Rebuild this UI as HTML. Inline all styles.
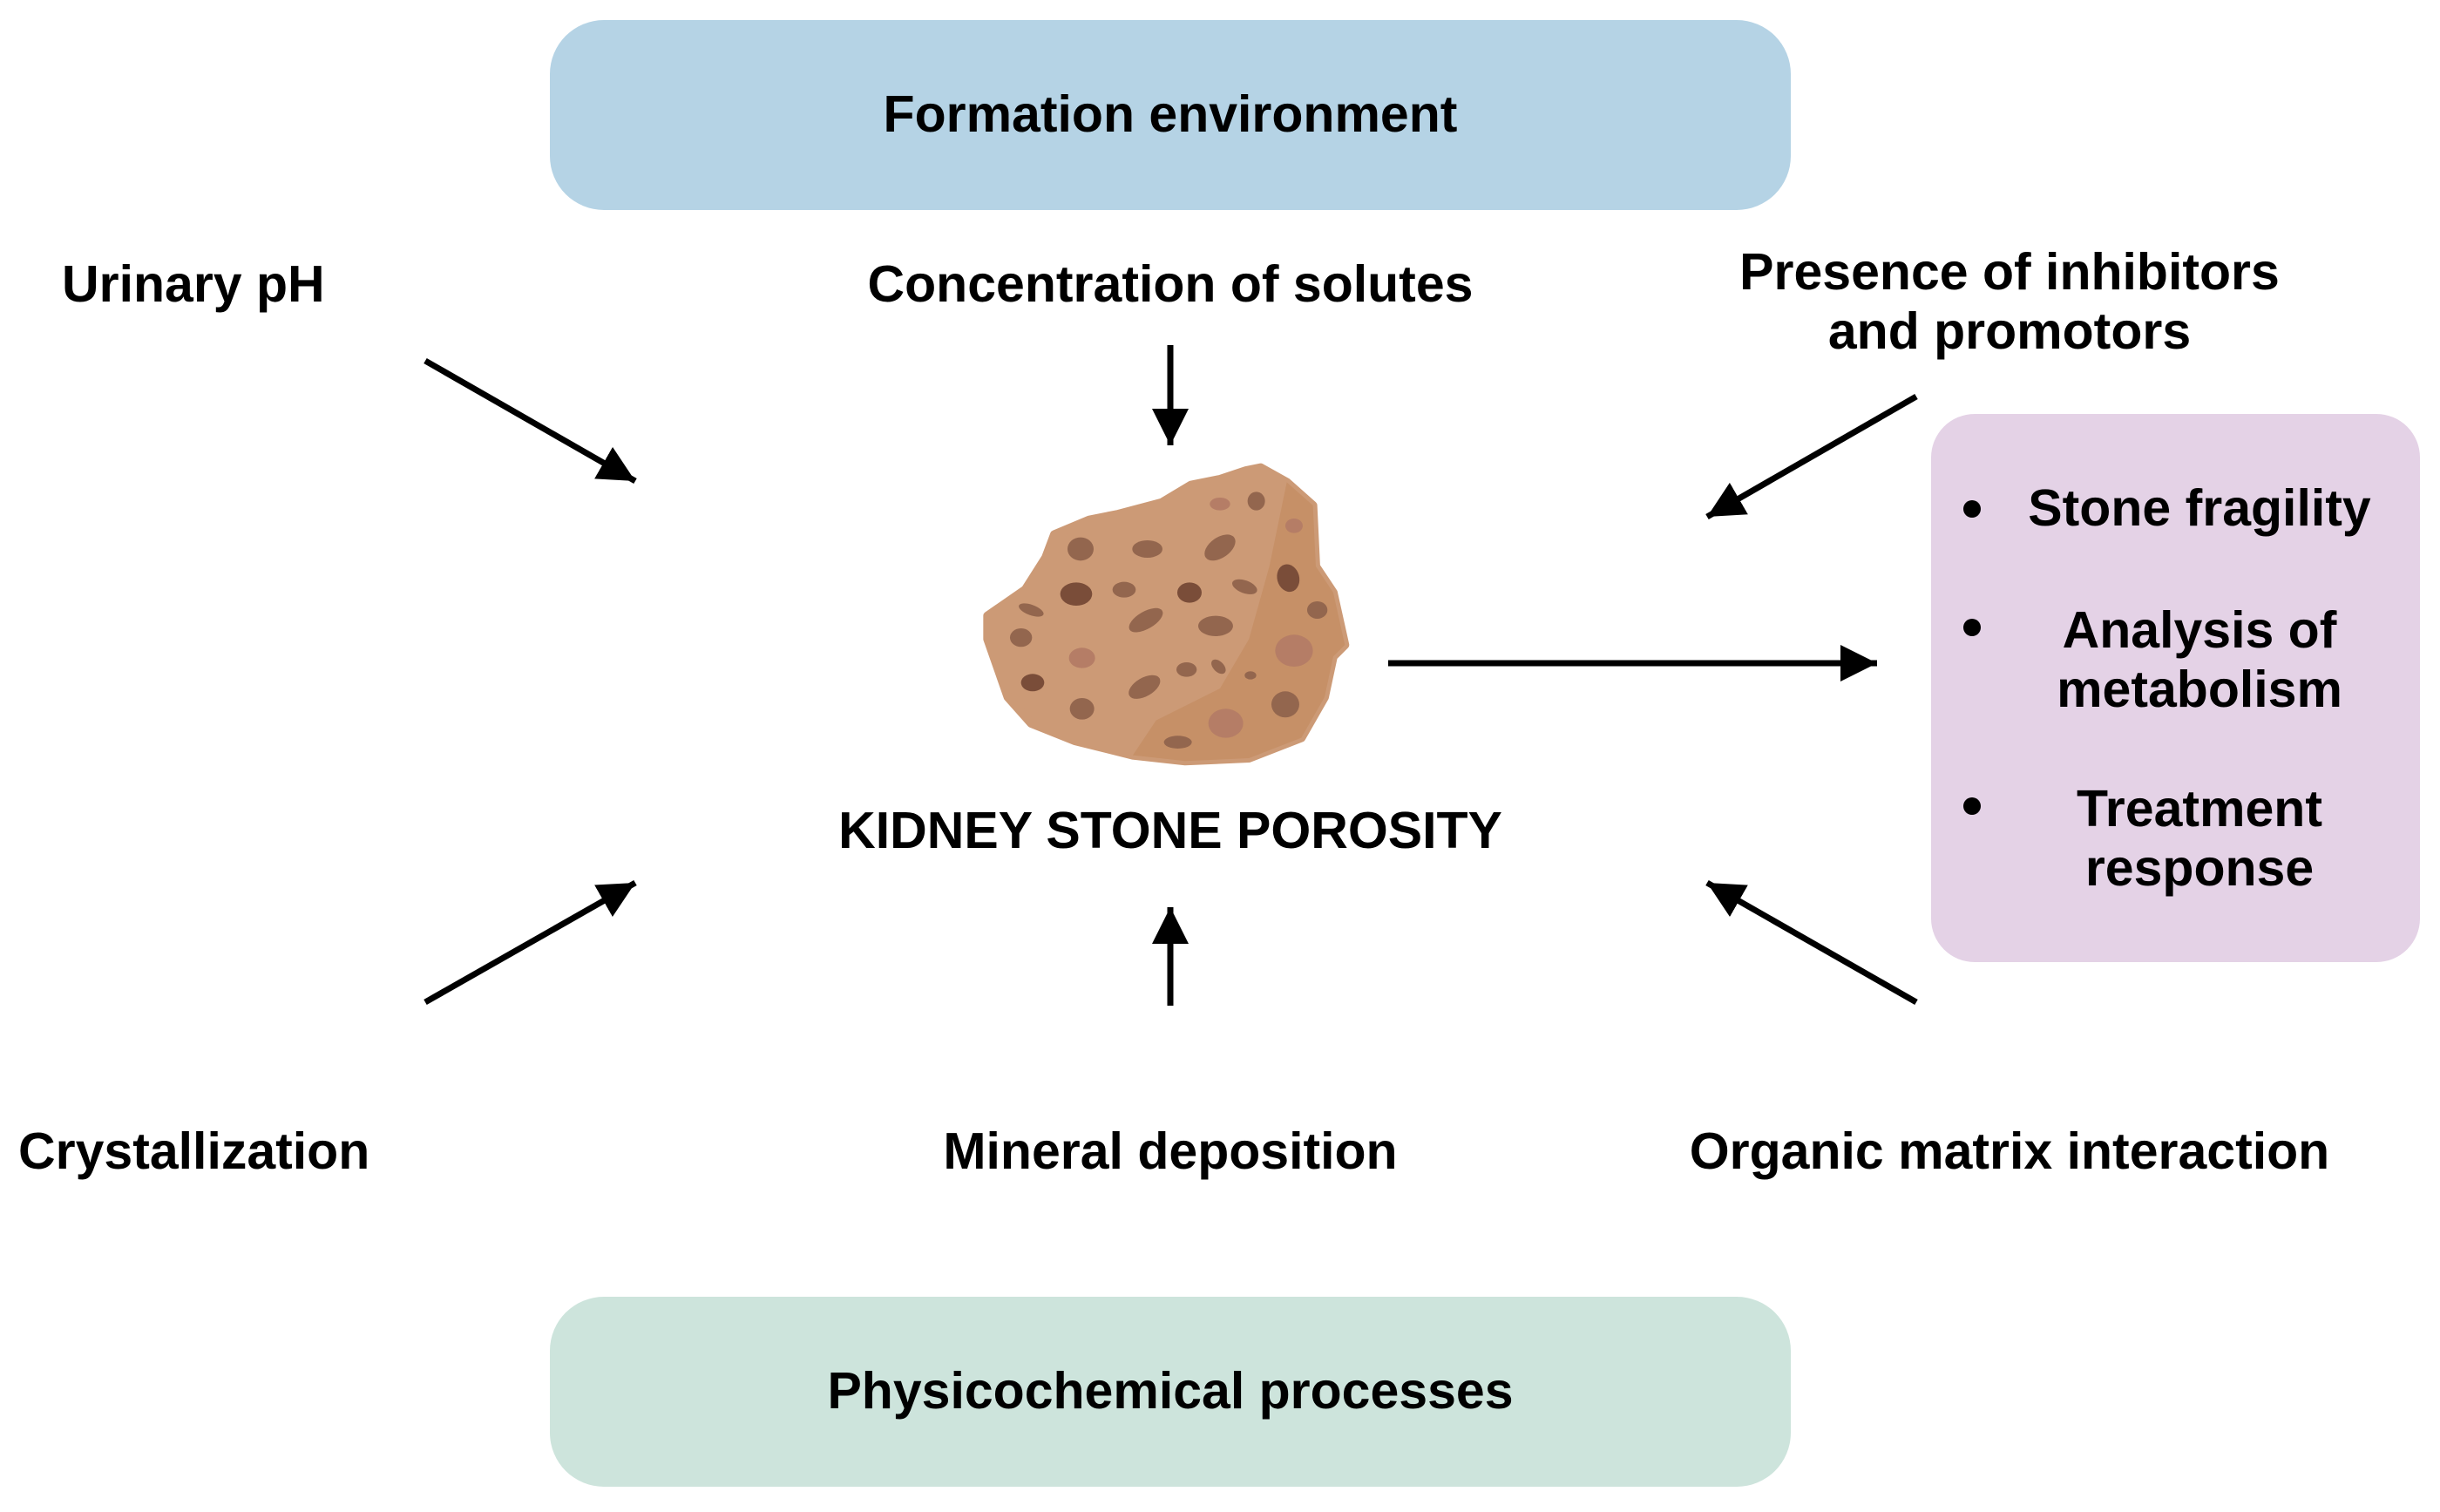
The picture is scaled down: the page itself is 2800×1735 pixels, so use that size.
<!DOCTYPE html>
<html><head><meta charset="utf-8"><style>
html,body{margin:0;padding:0;background:#fff;}
body{width:2800px;height:1735px;position:relative;overflow:hidden;font-family:"Liberation Sans",Arial,sans-serif;font-weight:bold;color:#000;}
.box{position:absolute;border-radius:62px;}
.t{position:absolute;font-size:59px;white-space:nowrap;line-height:1;}
.c{transform:translateX(-50%);text-align:center;}
.b{position:absolute;width:20px;height:20px;border-radius:50%;background:#000;}
</style></head><body>
<div class="box" style="left:631px;top:23px;width:1424px;height:218px;background:#b5d3e5;"></div>
<div class="box" style="left:631px;top:1488px;width:1424px;height:218px;background:#cde4dc;"></div>
<div class="box" style="left:2216px;top:475px;width:561px;height:629px;background:#e4d2e6;border-radius:50px;"></div>

<div class="t c" style="left:1343px;top:102px;">Formation environment</div>
<div class="t c" style="left:1343px;top:1567px;">Physicochemical processes</div>
<div class="t" style="left:71px;top:297px;">Urinary pH</div>
<div class="t c" style="left:1343px;top:297px;">Concentration of solutes</div>
<div class="t c" style="left:2306px;top:278px;line-height:68px;">Presence of inhibitors<br>and promotors</div>
<div class="t" style="left:21px;top:1292px;">Crystallization</div>
<div class="t c" style="left:1343px;top:1292px;">Mineral deposition</div>
<div class="t c" style="left:2306px;top:1292px;">Organic matrix interaction</div>
<div class="t c" style="left:1343px;top:924px;">KIDNEY STONE POROSITY</div>

<div class="b" style="left:2253px;top:574px;"></div>
<div class="b" style="left:2253px;top:710px;"></div>
<div class="b" style="left:2253px;top:915px;"></div>
<div class="t c" style="left:2524px;top:554px;">Stone fragility</div>
<div class="t c" style="left:2524px;top:689px;line-height:68px;">Analysis of<br>metabolism</div>
<div class="t c" style="left:2524px;top:894px;line-height:68px;">Treatment<br>response</div>

<svg width="2800" height="1735" style="position:absolute;left:0;top:0;">
<defs><marker id="a" markerWidth="6" markerHeight="6" refX="6" refY="3" orient="auto" markerUnits="strokeWidth"><path d="M0,0 L6,3 L0,6 z" fill="#000"/></marker></defs>
<g stroke="#000" stroke-width="7" marker-end="url(#a)">
<line x1="488" y1="414" x2="729" y2="552"/>
<line x1="1343" y1="396" x2="1343" y2="511"/>
<line x1="2199" y1="455" x2="1959" y2="593"/>
<line x1="1593" y1="761" x2="2154" y2="761"/>
<line x1="488" y1="1150" x2="729" y2="1013"/>
<line x1="1343" y1="1154" x2="1343" y2="1041"/>
<line x1="2199" y1="1150" x2="1959" y2="1013"/>
</g>
<g transform="translate(1100,500) scale(0.3333)">
<path d="M1040,110 L1130,160 L1220,240 L1230,450 L1290,540 L1330,720 L1290,760 L1260,900 L1180,1040 L1000,1110 L780,1120 L600,1100 L400,1050 L250,990 L170,900 L100,700 L100,620 L230,530 L300,420 L330,340 L450,290 L550,270 L700,230 L800,170 L900,150 L990,120 Z" fill="#cc9a76" stroke="#cc9a76" stroke-width="30" stroke-linejoin="round"/>
<path d="M1130,160 L1220,240 L1230,450 L1290,540 L1330,720 L1290,760 L1260,900 L1180,1040 L1000,1110 L780,1120 L600,1100 L680,980 L900,870 L1000,700 L1070,450 Z" fill="#c69067"/>
<g fill="#93664e">
<ellipse cx="420" cy="390" rx="45" ry="40"/><ellipse cx="650" cy="390" rx="52" ry="30"/><ellipse cx="900" cy="385" rx="60" ry="35" transform="rotate(-35 900 385)"/>
<ellipse cx="1025" cy="225" rx="30" ry="32"/><ellipse cx="570" cy="530" rx="40" ry="27"/><ellipse cx="985" cy="520" rx="45" ry="22" transform="rotate(20 985 520)"/>
<ellipse cx="250" cy="600" rx="45" ry="18" transform="rotate(20 250 600)"/><ellipse cx="215" cy="695" rx="38" ry="32"/><ellipse cx="645" cy="635" rx="65" ry="30" transform="rotate(-30 645 635)"/>
<ellipse cx="885" cy="655" rx="60" ry="35"/><ellipse cx="1235" cy="600" rx="35" ry="30"/><ellipse cx="785" cy="805" rx="35" ry="25"/>
<ellipse cx="895" cy="795" rx="30" ry="18" transform="rotate(45 895 795)"/><ellipse cx="1005" cy="825" rx="20" ry="14"/><ellipse cx="640" cy="865" rx="60" ry="32" transform="rotate(-30 640 865)"/>
<ellipse cx="425" cy="940" rx="42" ry="37"/><ellipse cx="1125" cy="925" rx="48" ry="45"/><ellipse cx="755" cy="1055" rx="48" ry="22"/>
</g>
<g fill="#7a4d39">
<ellipse cx="405" cy="545" rx="55" ry="40"/><ellipse cx="795" cy="540" rx="42" ry="35"/><ellipse cx="1135" cy="490" rx="38" ry="48" transform="rotate(-15 1135 490)"/><ellipse cx="255" cy="850" rx="40" ry="30"/>
</g>
<g fill="#b57d66">
<ellipse cx="900" cy="235" rx="35" ry="22"/><ellipse cx="1155" cy="310" rx="30" ry="25"/><ellipse cx="425" cy="765" rx="45" ry="35"/><ellipse cx="1155" cy="740" rx="65" ry="55"/><ellipse cx="920" cy="990" rx="60" ry="50"/>
</g>
</g>
</svg>
</body></html>
